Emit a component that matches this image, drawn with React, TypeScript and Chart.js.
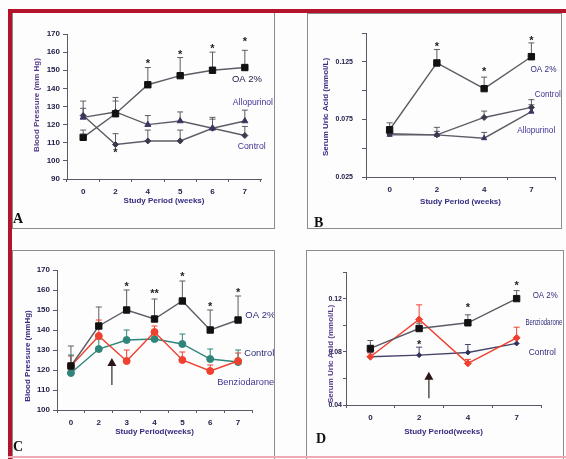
import React, { useEffect, useRef } from 'react';
import { Chart, registerables } from 'chart.js';
Chart.register(...registerables);

const FONT = '"Liberation Sans", Arial, sans-serif';

// ---------- Panel A : blood pressure ----------
const weeksA = ['0', '2', '4', '5', '6', '7'];
const oaA = [113, 126, 142, 147, 150, 151.5];
const oaErrA = [4, 9, 9.5, 10, 10, 9.5];
const alloA = [124, 127, 120, 122, 118, 122];
const alloErrA = [5, 6, 5, 5, 6, 6];
const ctrlA = [125, 109, 111, 111, 118, 114];
const ctrlErrA = [8, 6, 6, 6, 5, 5];
const starsA: [number, number, string][] = [[2, 155, '*'], [3, 160, '*'], [4, 163.5, '*'], [5, 167, '*'], [1, 106, '*']];

// ---------- Panel B : serum uric acid ----------
const weeksB = ['0', '2', '4', '7'];
const oaB = [0.066, 0.124, 0.1017, 0.1294];
const oaErrB = [0.006, 0.0117, 0.01, 0.012];
const ctrlB = [0.0625, 0.0616, 0.0767, 0.0854];
const ctrlErrB = [0.002, 0.0065, 0.0055, 0.0067];
const alloB = [0.0616, 0.0616, 0.0587, 0.0817];
const alloErrB = [0.002, 0.003, 0.005, 0.006];
const starsB: [number, number, string][] = [[1, 0.1407, '*'], [2, 0.119, '*'], [3, 0.146, '*']];
const yLabelsB = ['0.025', '0.075', '0.125'];

// ---------- Panel C : blood pressure with benziodarone ----------
const weeksC = ['0', '2', '3', '4', '5', '6', '7'];
const oaC = [122, 142, 150, 145.5, 154.5, 140, 145];
const oaErrC = [10, 9.5, 10, 10, 10, 10, 12];
const ctrlC = [118.5, 130.5, 135, 135.5, 133, 125.5, 124];
const ctrlErrC = [9, 5, 5, 4, 5, 5, 6];
const benzC = [122, 137, 124.5, 139, 125, 119.5, 124.5];
const benzErrC = [5, 8, 5.5, 3, 4, 3, 4];
const starsC: [number, number, string][] = [[2, 162.8, '*'], [3, 159.5, '**'], [4, 167.8, '*'], [5, 153, '*'], [6, 160, '*']];
const arrowC: [number, number, number] = [1.47, 112.5, 126];

// ---------- Panel D : serum uric acid with benziodarone ----------
const weeksD = ['0', '2', '4', '7'];
const oaD = [0.0825, 0.0975, 0.1018, 0.12];
const oaErrD = [0.006, 0.004, 0.006, 0.006];
const benzD = [0.0763, 0.1043, 0.0713, 0.0905];
const benzErrD = [0.003, 0.011, 0.003, 0.008];
const ctrlD = [0.0763, 0.0775, 0.0795, 0.0863];
const ctrlErrD = [0.003, 0.006, 0.006, 0.004];
const starsD: [number, number, string][] = [[1, 0.0875, '*'], [2, 0.115, '*'], [3, 0.132, '*']];
const arrowD: [number, number, number] = [1.2, 0.045, 0.065];
const yLabelsD = ['0.04', '0.08', '0.12'];

const AXIS = '#5a5a66';
const TICK = '#23224a';
const NAVY = '#2e2a7a';
const GRAY = '#5c5c66';
const TEAL = '#2f857a';
const RED = '#f0402f';

function extrasPlugin(p: any) {
  return {
    id: 'extras',
    beforeDatasetsDraw(chart: any) {
      const ctx = chart.ctx;
      const ys = chart.scales.y;
      chart.data.datasets.forEach((ds: any, i: number) => {
        if (!ds.errs) return;
        const meta = chart.getDatasetMeta(i);
        ctx.save();
        ctx.strokeStyle = ds.errColor || ds.borderColor;
        ctx.lineWidth = 1;
        meta.data.forEach((pt: any, j: number) => {
          const e = ds.errs[j];
          if (!e) return;
          const yTop = ys.getPixelForValue(ds.data[j] + e);
          ctx.beginPath();
          ctx.moveTo(pt.x, pt.y);
          ctx.lineTo(pt.x, yTop);
          ctx.moveTo(pt.x - 3, yTop);
          ctx.lineTo(pt.x + 3, yTop);
          ctx.stroke();
        });
        ctx.restore();
      });
    },
    afterDraw(chart: any) {
      const ctx = chart.ctx;
      const xs = chart.scales.x;
      const ys = chart.scales.y;
      ctx.save();
      // y axis title
      ctx.save();
      ctx.translate(p.yTitleX - p.box.x, p.yTitleY - p.box.y);
      ctx.rotate(-Math.PI / 2);
      ctx.font = 'bold 8px ' + FONT;
      ctx.fillStyle = p.yTitleColor;
      ctx.textAlign = 'center';
      ctx.textBaseline = 'middle';
      ctx.fillText(p.yTitle, 0, 0);
      ctx.restore();
      // significance marks
      ctx.fillStyle = '#222';
      ctx.font = 'bold 11px ' + FONT;
      ctx.textAlign = 'center';
      ctx.textBaseline = 'middle';
      (p.stars || []).forEach(([i, v, t]: any) => {
        ctx.fillText(t, xs.getPixelForValue(i), ys.getPixelForValue(v) + 3);
      });
      // series labels
      ctx.font = '9.5px ' + FONT;
      ctx.textAlign = 'left';
      (p.labels || []).forEach(([t, i, v, col, mw]: any) => {
        ctx.fillStyle = col || NAVY;
        ctx.fillText(t, xs.getPixelForValue(i), ys.getPixelForValue(v), mw);
      });
      if (p.arrow) {
        const [i, from, to] = p.arrow;
        const x = xs.getPixelForValue(i);
        const y0 = ys.getPixelForValue(from);
        const y1 = ys.getPixelForValue(to);
        ctx.strokeStyle = '#555';
        ctx.lineWidth = 1.5;
        ctx.beginPath();
        ctx.moveTo(x, y0);
        ctx.lineTo(x, y1 + 7);
        ctx.stroke();
        ctx.fillStyle = '#2a1616';
        ctx.beginPath();
        ctx.moveTo(x, y1);
        ctx.lineTo(x - 4.5, y1 + 8);
        ctx.lineTo(x + 4.5, y1 + 8);
        ctx.closePath();
        ctx.fill();
      }
      ctx.restore();
    },
  };
}

function line(label: string, data: number[], errs: number[], color: string, style: string, r: number, fill: string) {
  return {
    label,
    data,
    errs,
    errColor: color,
    borderColor: color,
    borderWidth: 1.4,
    pointStyle: style,
    pointRadius: r,
    pointBackgroundColor: fill,
    pointBorderColor: fill,
    pointBorderWidth: 1,
    tension: 0,
    fill: false,
  };
}

function buildConfig(p: any) {
  const lh = 8 * 1.2;
  const pad = { left: 0, top: p.area.t - p.box.y, right: p.box.x + p.box.w - p.area.r, bottom: 0 };
  const yW = p.area.l - p.box.x;
  const xH = p.box.y + p.box.h - p.area.b;
  const tickFont = { family: FONT, size: 8, weight: 'bold' as const };
  const yTickFont = { family: FONT, size: p.yTickSize, weight: 'bold' as const };
  const titleFont = { family: FONT, size: 8, weight: 'bold' as const, lineHeight: 1.2 };
  return {
    type: 'line' as const,
    data: { labels: p.categories, datasets: p.datasets },
    options: {
      responsive: false,
      maintainAspectRatio: false,
      animation: false as const,
      layout: { padding: pad },
      plugins: { legend: { display: false }, tooltip: { enabled: false } },
      scales: {
        x: {
          type: 'category' as const,
          offset: true,
          grid: { offset: true, drawOnChartArea: false, drawTicks: true, tickLength: 3, color: AXIS },
          border: { display: true, color: AXIS, width: 1 },
          ticks: { font: tickFont, color: TICK, padding: 5, maxRotation: 0, autoSkip: false },
          title: {
            display: true,
            text: p.xTitle,
            font: titleFont,
            color: p.xTitleColor,
            padding: { top: 0, bottom: p.box.y + p.box.h - p.xTitleY - lh / 2 },
          },
          afterFit: (s: any) => { s.height = xH; },
        },
        y: {
          type: 'linear' as const,
          min: p.y.min,
          max: p.y.max,
          grid: { drawOnChartArea: false, drawTicks: true, tickLength: p.yTickLen, color: AXIS },
          border: { display: true, color: AXIS, width: 1 },
          ticks: {
            stepSize: p.y.step,
            font: yTickFont,
            color: TICK,
            padding: p.yTickPad,
            callback: (v: any) => {
              const s = Number(v).toFixed(p.y.digits);
              if (!p.y.labeled) return s;
              return p.y.labeled.includes(s) ? s : '';
            },
          },
          title: { display: false },
          afterFit: (s: any) => { s.width = yW; },
        },
      },
    },
    plugins: [extrasPlugin(p)],
  };
}

const panels = [
  {
    key: 'A',
    box: { x: 13, y: 14, w: 261, h: 214 },
    area: { l: 67, r: 261, t: 34, b: 179 },
    categories: weeksA,
    datasets: [
      line('OA 2%', oaA, oaErrA, GRAY, 'rect', 4.5, '#111'),
      line('Allopurinol', alloA, alloErrA, GRAY, 'triangle', 3.5, '#3a3560'),
      line('Control', ctrlA, ctrlErrA, GRAY, 'rectRot', 3, '#3a3a50'),
    ],
    y: { min: 90, max: 170, step: 10, digits: 0 },
    yTickSize: 8,
    yTitle: 'Blood Pressure (mm Hg)', yTitleColor: '#5a3a8c', yTitleX: 37, yTitleY: 105,
    xTitle: 'Study Period (weeks)', xTitleColor: '#342c80', xTitleY: 201,
    yTickPad: 3, yTickLen: 4,
    stars: starsA,
    labels: [['OA 2%', 4.6, 145.2, '#222244', 30], ['Allopurinol', 4.63, 132.5, '#3f3596', 40], ['Control', 4.78, 108.2, '#3f3596', 28]],
  },
  {
    key: 'B',
    box: { x: 308, y: 14, w: 253, h: 214 },
    area: { l: 366, r: 555, t: 33, b: 177 },
    categories: weeksB,
    datasets: [
      line('OA 2%', oaB, oaErrB, GRAY, 'rect', 4.5, '#111'),
      line('Control', ctrlB, ctrlErrB, GRAY, 'rectRot', 3, '#3a3a50'),
      line('Allopurinol', alloB, alloErrB, GRAY, 'triangle', 3, '#3a3560'),
    ],
    y: { min: 0.025, max: 0.15, step: 0.025, digits: 3, labeled: yLabelsB },
    yTickSize: 7,
    yTitle: 'Serum Uric Acid (mmol/L)', yTitleColor: '#342c80', yTitleX: 326, yTitleY: 107,
    xTitle: 'Study Period (weeks)', xTitleColor: '#342c80', xTitleY: 202,
    yTickPad: 9, yTickLen: 4,
    stars: starsB,
    labels: [['OA 2%', 2.98, 0.118, '#2e2a7a', 26], ['Control', 3.07, 0.097, '#3f3596', 26], ['Allopurinol', 2.7, 0.0657, '#3f3596', 38]],
  },
  {
    key: 'C',
    box: { x: 12, y: 251, w: 262, h: 208 },
    area: { l: 57, r: 252, t: 270, b: 410 },
    categories: weeksC,
    datasets: [
      line('OA 2%', oaC, oaErrC, GRAY, 'rect', 4.5, '#111'),
      line('Benziodarone', benzC, benzErrC, RED, 'circle', 3.5, RED),
      line('Control', ctrlC, ctrlErrC, TEAL, 'circle', 3.5, TEAL),
    ],
    y: { min: 100, max: 170, step: 10, digits: 0 },
    yTickSize: 8,
    yTitle: 'Blood Pressure (mmHg)', yTitleColor: '#342c80', yTitleX: 28, yTitleY: 356,
    xTitle: 'Study Period(weeks)', xTitleColor: '#342c80', xTitleY: 432,
    yTickPad: 3, yTickLen: 4,
    stars: starsC,
    arrow: arrowC,
    labels: [['OA 2%', 6.26, 147.5, '#2e2a7a', 30], ['Control', 6.22, 128.5, '#2e2a7a', 30], ['Benziodarone', 5.25, 114, '#3f3596', 57]],
  },
  {
    key: 'D',
    box: { x: 307, y: 251, w: 257, h: 208 },
    area: { l: 346, r: 541, t: 272, b: 405 },
    categories: weeksD,
    datasets: [
      line('OA 2%', oaD, oaErrD, GRAY, 'rect', 4.5, '#111'),
      line('Benziodarone', benzD, benzErrD, RED, 'rectRot', 3.5, RED),
      line('Control', ctrlD, ctrlErrD, '#44446a', 'rectRot', 2.5, '#303060'),
    ],
    y: { min: 0.04, max: 0.14, step: 0.02, digits: 2, labeled: yLabelsD },
    yTickSize: 7,
    yTitle: 'Serum Uric Acid (mmol/L)', yTitleColor: '#5a3a8c', yTitleX: 331, yTitleY: 354,
    xTitle: 'Study Period(weeks)', xTitleColor: '#342c80', xTitleY: 432,
    yTickPad: 1, yTickLen: 3,
    stars: starsD,
    arrow: arrowD,
    labels: [['OA 2%', 3.33, 0.1227, '#2e2a7a', 25], ['Benziodarone', 3.18, 0.1024, '#2e2a7a', 37], ['Control', 3.25, 0.0798, '#2e2a7a', 27]],
  },
];

function Panel({ p }: { p: any }) {
  const ref = useRef<HTMLCanvasElement>(null);
  useEffect(() => {
    const chart = new Chart(ref.current as HTMLCanvasElement, buildConfig(p) as any);
    return () => chart.destroy();
  }, []);
  return (
    <canvas
      ref={ref}
      width={p.box.w}
      height={p.box.h}
      style={{ position: 'absolute', left: p.box.x, top: p.box.y, width: p.box.w, height: p.box.h }}
    />
  );
}

const boxStyle = (l: number, t: number, w: number, h: number): React.CSSProperties => ({
  position: 'absolute', left: l, top: t, width: w, height: h, border: '1px solid #8c8c8c', boxSizing: 'border-box',
});

const letterStyle = (l: number, t: number): React.CSSProperties => ({
  position: 'absolute', left: l, top: t, font: 'bold 14px "Liberation Serif", "Times New Roman", serif', lineHeight: 1, color: '#111',
});

export default function App() {
  return (
    <div style={{ position: 'fixed', left: 0, top: 0, width: 566, height: 459, background: '#fdfdfd', overflow: 'hidden' }}>
      <div style={boxStyle(12, 12, 263, 217)} />
      <div style={boxStyle(307, 13, 255, 216)} />
      <div style={boxStyle(12, 250, 263, 215)} />
      <div style={boxStyle(306, 250, 258, 215)} />
      <div style={{ position: 'absolute', left: 8, top: 9, width: 558, height: 4, background: '#b3142a' }} />
      <div style={{ position: 'absolute', left: 8, top: 9, width: 4, height: 450, background: '#b3142a' }} />
      <div style={{ position: 'absolute', left: 8, top: 456, width: 558, height: 2, background: '#f2a9b6' }} />
      {panels.map((p) => <Panel key={p.key} p={p} />)}
      <div style={letterStyle(13, 212)}>A</div>
      <div style={letterStyle(314, 216)}>B</div>
      <div style={letterStyle(13, 440)}>C</div>
      <div style={letterStyle(316, 432)}>D</div>
    </div>
  );
}
